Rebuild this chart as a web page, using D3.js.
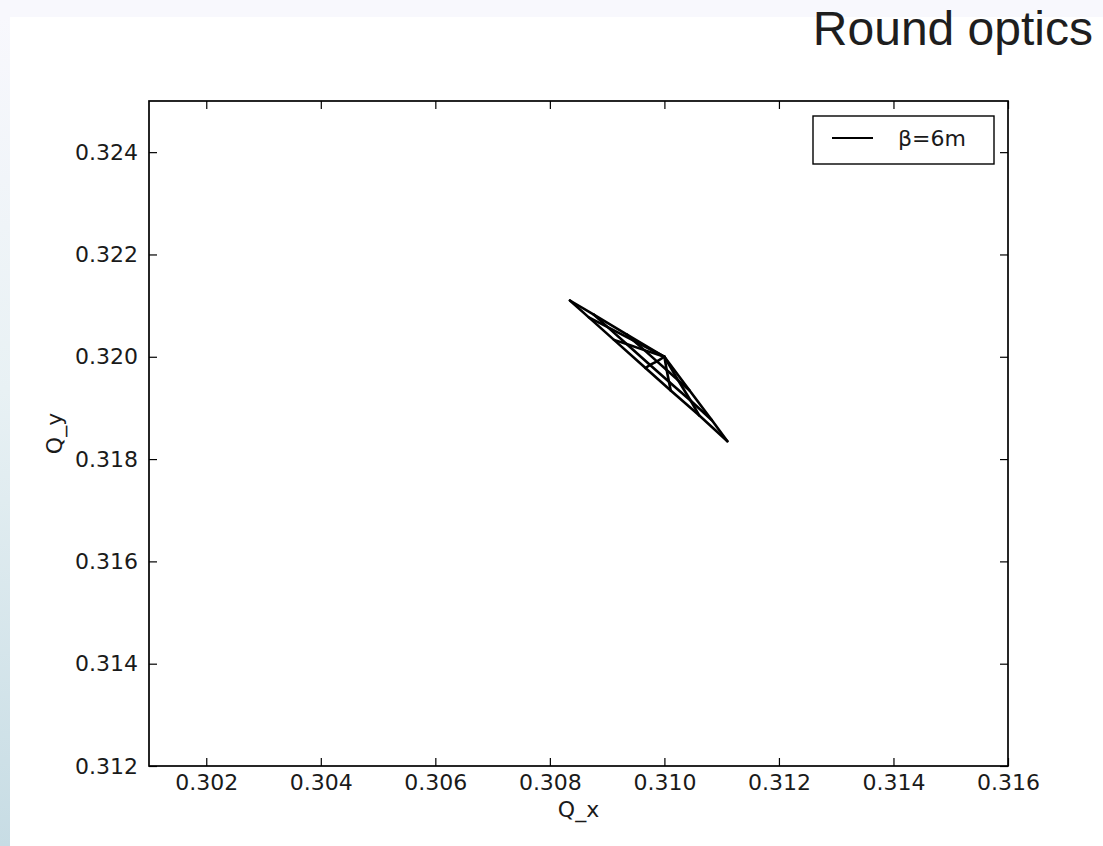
<!DOCTYPE html>
<html>
<head>
<meta charset="utf-8">
<script src="https://cdn.jsdelivr.net/npm/d3@7"></script>
<style>
  html, body { margin: 0; padding: 0; background: #ffffff; }
  svg { display: block; }
</style>
</head>
<body>
<svg id="chart" width="1103" height="846"></svg>
<script>
// Axis ticks
const xTicks = [0.302, 0.304, 0.306, 0.308, 0.310, 0.312, 0.314, 0.316];
const yTicks = [0.312, 0.314, 0.316, 0.318, 0.320, 0.322, 0.324];

// Tune footprint, beta* = 6 m: bare working point and three amplitude levels,
// each sampled at seven amplitude angles (from pure horizontal to pure vertical)
const originTune = [0.31000, 0.32000];
const levelLow = [
  [0.30934, 0.32044], [0.30947, 0.32031], [0.30965, 0.32013], [0.30987, 0.31991],
  [0.31004, 0.31974], [0.31024, 0.31954], [0.31044, 0.31934]
];
const levelMid = [
  [0.30876, 0.32083], [0.30901, 0.32058], [0.30934, 0.32025], [0.30975, 0.31984],
  [0.31008, 0.31951], [0.31046, 0.31914], [0.31083, 0.31876]
];
const levelHigh = [
  [0.30835, 0.32110], [0.30868, 0.32077], [0.30912, 0.32033], [0.30967, 0.31978],
  [0.31011, 0.31934], [0.31061, 0.31885], [0.31110, 0.31835]
];
const seriesLabel = "β=6m";
const titleText = "Round optics";

const svg = d3.select("#chart");

// Page background: pale top band and a blue-tinted strip down the left edge
const defs = svg.append("defs");
const grad = defs.append("linearGradient").attr("id", "edgeGrad")
  .attr("x1", 0).attr("y1", 0).attr("x2", 0).attr("y2", 1);
grad.append("stop").attr("offset", "0%").attr("stop-color", "#f8f8fd");
grad.append("stop").attr("offset", "45%").attr("stop-color", "#e8f1f4");
grad.append("stop").attr("offset", "100%").attr("stop-color", "#c7dce4");
svg.append("rect").attr("x", 0).attr("y", 0).attr("width", 1103).attr("height", 17).attr("fill", "#f8f8fd");
svg.append("rect").attr("x", 0).attr("y", 17).attr("width", 10).attr("height", 829).attr("fill", "url(#edgeGrad)");

// Title
svg.append("text")
  .attr("x", 1093).attr("y", 45)
  .attr("text-anchor", "end")
  .attr("font-family", "'Liberation Sans', Arial, sans-serif")
  .attr("font-size", 48)
  .attr("fill", "#1e1e1e")
  .text(titleText);

// Scales
const x = d3.scaleLinear().domain([0.301, 0.316]).range([149, 1008]);
const y = d3.scaleLinear().domain([0.312, 0.325]).range([766, 101]);

const font = "'DejaVu Sans', sans-serif";
const fmt = d3.format(".3f");

function styleAxis(g) {
  g.select(".domain").remove();
  g.selectAll(".tick line").attr("stroke", "#000").attr("stroke-width", 1.2);
  g.selectAll(".tick text").attr("font-family", font).attr("font-size", 22).attr("fill", "#1a1a1a");
}

svg.append("g").attr("transform", "translate(0,766)")
  .call(d3.axisBottom(x).tickValues(xTicks).tickSize(-8).tickPadding(8).tickFormat(fmt))
  .call(styleAxis);
svg.append("g").attr("transform", "translate(0,101)")
  .call(d3.axisTop(x).tickValues(xTicks).tickSize(-8).tickFormat(""))
  .call(styleAxis);
svg.append("g").attr("transform", "translate(149,0)")
  .call(d3.axisLeft(y).tickValues(yTicks).tickSize(-8).tickPadding(11).tickFormat(fmt))
  .call(styleAxis);
svg.append("g").attr("transform", "translate(1008,0)")
  .call(d3.axisRight(y).tickValues(yTicks).tickSize(-8).tickFormat(""))
  .call(styleAxis);

// Footprint: constant-angle rays from the bare tune, then constant-amplitude arcs
const line = d3.line().x(d => x(d[0])).y(d => y(d[1]));
const paths = [];
for (let k = 0; k < levelHigh.length; k++) {
  paths.push([originTune, levelLow[k], levelMid[k], levelHigh[k]]);
}
paths.push(levelLow, levelMid, levelHigh);

svg.append("g").selectAll("path").data(paths).join("path")
  .attr("d", line)
  .attr("fill", "none")
  .attr("stroke", "#000")
  .attr("stroke-width", 2.6)
  .attr("stroke-linejoin", "round")
  .attr("stroke-linecap", "round");

// Axes frame
svg.append("rect")
  .attr("x", x(0.301)).attr("y", y(0.325))
  .attr("width", x(0.316) - x(0.301)).attr("height", y(0.312) - y(0.325))
  .attr("fill", "none").attr("stroke", "#000").attr("stroke-width", 1.7);

// Axis labels
svg.append("text")
  .attr("x", (x(0.301) + x(0.316)) / 2).attr("y", 817)
  .attr("text-anchor", "middle")
  .attr("font-family", font).attr("font-size", 22).attr("fill", "#1a1a1a")
  .text("Q_x");
svg.append("text")
  .attr("transform", `translate(62,${(y(0.312) + y(0.325)) / 2}) rotate(-90)`)
  .attr("text-anchor", "middle")
  .attr("font-family", font).attr("font-size", 22).attr("fill", "#1a1a1a")
  .text("Q_y");

// Legend
const lg = svg.append("g");
lg.append("rect").attr("x", 813).attr("y", 116).attr("width", 181).attr("height", 48)
  .attr("fill", "#fff").attr("stroke", "#000").attr("stroke-width", 1.4);
lg.append("line").attr("x1", 832).attr("x2", 873).attr("y1", 138).attr("y2", 138)
  .attr("stroke", "#000").attr("stroke-width", 2.2);
lg.append("text").attr("x", 898).attr("y", 146)
  .attr("font-family", font).attr("font-size", 22).attr("fill", "#1a1a1a")
  .text(seriesLabel);
</script>
</body>
</html>
